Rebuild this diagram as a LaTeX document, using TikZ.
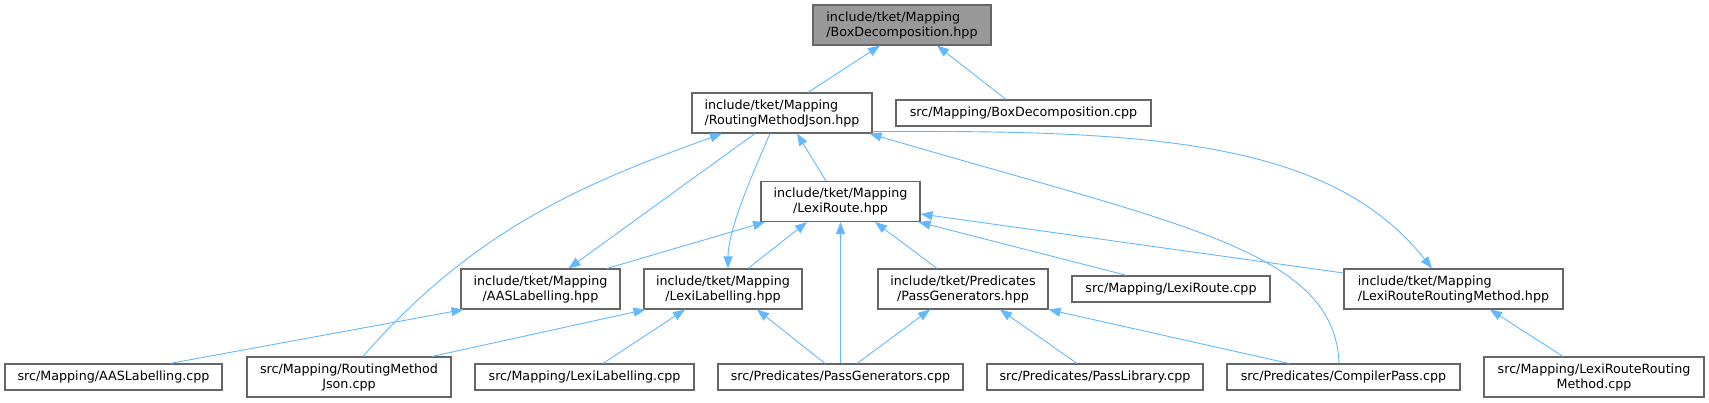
\documentclass[tikz,border=0pt]{standalone}
\usepackage{fontspec}
\setmainfont{DejaVu Sans}
\usepackage{tikz}
\usetikzlibrary{arrows.meta}
\definecolor{dgrey}{HTML}{666666}
\definecolor{droot}{HTML}{999999}
\definecolor{dedge}{HTML}{63B8FF}
\tikzset{
  file/.style={draw=dgrey,fill=white,line width=1.1pt,align=center,inner xsep=2pt,inner ysep=2pt,font=\fontsize{12.7}{15}\selectfont,minimum height=26pt},
  file2/.style={file,minimum height=40pt},
  filel/.style={file2,align=left},
  rootfile/.style={filel,fill=droot},
  dep/.style={{Triangle[length=12pt,width=9pt]}-,draw=dedge,line width=0.9pt},
}
\begin{document}
\begin{tikzpicture}[x=1pt,y=-1pt]
  \useasboundingbox (0,0) rectangle (1709,403);
  \node[rootfile,minimum width=178pt] (bdhpp) at (902,25) {include/tket/Mapping\\/BoxDecomposition.hpp};
  \node[filel,minimum width=180pt] (rmjhpp) at (782,113) {include/tket/Mapping\\/RoutingMethodJson.hpp};
  \node[file,minimum width=255pt] (bdcpp) at (1023.5,113) {src/Mapping/BoxDecomposition.cpp};
  \node[file2,minimum width=159pt] (lrhpp) at (840.5,201.5) {include/tket/Mapping\\/LexiRoute.hpp};
  \node[file2,minimum width=159pt] (aashpp) at (540.5,289) {include/tket/Mapping\\/AASLabelling.hpp};
  \node[file2,minimum width=158pt] (llhpp) at (723,289) {include/tket/Mapping\\/LexiLabelling.hpp};
  \node[file2,minimum width=170pt] (pghpp) at (963,289) {include/tket/Predicates\\/PassGenerators.hpp};
  \node[file,minimum width=198pt] (lrcpp) at (1171,289) {src/Mapping/LexiRoute.cpp};
  \node[filel,minimum width=219pt] (lrrmhpp) at (1453.5,289) {include/tket/Mapping\\/LexiRouteRoutingMethod.hpp};
  \node[file,minimum width=217pt] (aascpp) at (113.5,377) {src/Mapping/AASLabelling.cpp};
  \node[file2,minimum width=204pt] (rmjcpp) at (349,377) {src/Mapping/RoutingMethod\\Json.cpp};
  \node[file,minimum width=219pt] (llcpp) at (584.5,377) {src/Mapping/LexiLabelling.cpp};
  \node[file,minimum width=245pt] (pgcpp) at (840.5,377) {src/Predicates/PassGenerators.cpp};
  \node[file,minimum width=216pt] (plcpp) at (1095,377) {src/Predicates/PassLibrary.cpp};
  \node[file,minimum width=233pt] (cpcpp) at (1343.5,377) {src/Predicates/CompilerPass.cpp};
  \node[file2,minimum width=220pt] (lrrmcpp) at (1594,377) {src/Mapping/LexiRouteRouting\\Method.cpp};

  \draw[dep] ([xshift=-22pt]bdhpp.south) -- ([xshift=26pt]rmjhpp.north);
  \draw[dep] ([xshift=35pt]bdhpp.south) -- ([xshift=-17.5pt]bdcpp.north);
  \draw[dep] ([xshift=15pt]rmjhpp.south) -- ([xshift=-14.5pt]lrhpp.north);
  \draw[dep] ([xshift=28pt]aashpp.north) -- ([xshift=-27pt]rmjhpp.south);
  \draw[dep] ([xshift=5pt]llhpp.north) .. controls (728,230) and (752,175) .. ([xshift=-12pt]rmjhpp.south);
  \draw[dep] ([xshift=-60pt]rmjhpp.south) .. controls (600,178) and (480,222) .. ([xshift=14pt]rmjcpp.north);
  \draw[dep] ([xshift=-3pt]rmjhpp.south east) .. controls (1180,225) and (1335,250) .. ([xshift=-4.5pt]cpcpp.north);
  \draw[dep] ([xshift=-21.5pt]lrrmhpp.north) .. controls (1330,140) and (1150,130) .. ([yshift=2pt]rmjhpp.south east);
  \draw[dep] ([xshift=-75.5pt]lrhpp.south) -- ([xshift=66.5pt]aashpp.north);
  \draw[dep] ([xshift=-33.5pt]lrhpp.south) -- ([xshift=25pt]llhpp.north);
  \draw[dep] (lrhpp.south) -- (pgcpp.north);
  \draw[dep] ([xshift=34.5pt]lrhpp.south) -- ([xshift=-26pt]pghpp.north);
  \draw[dep] ([xshift=-2pt]lrhpp.south east) -- ([xshift=-44pt]lrcpp.north);
  \draw[dep] ([yshift=-12.5pt]lrhpp.east) -- ([yshift=16pt]lrrmhpp.west);
  \draw[dep] ([xshift=3pt]aashpp.south west) -- ([xshift=56.5pt]aascpp.north);
  \draw[dep] ([xshift=2pt]llhpp.south west) -- ([xshift=83pt]rmjcpp.north);
  \draw[dep] ([xshift=-38pt]llhpp.south) -- ([xshift=18.5pt]llcpp.north);
  \draw[dep] ([xshift=34pt]llhpp.south) -- ([xshift=-15.5pt]pgcpp.north);
  \draw[dep] ([xshift=-33pt]pghpp.south) -- ([xshift=16.5pt]pgcpp.north);
  \draw[dep] ([xshift=37pt]pghpp.south) -- ([xshift=-18pt]plcpp.north);
  \draw[dep] (pghpp.south east) -- ([xshift=-54.5pt]cpcpp.north);
  \draw[dep] ([xshift=36.5pt]lrrmhpp.south) -- ([xshift=-31pt]lrrmcpp.north);
\end{tikzpicture}
\end{document}
